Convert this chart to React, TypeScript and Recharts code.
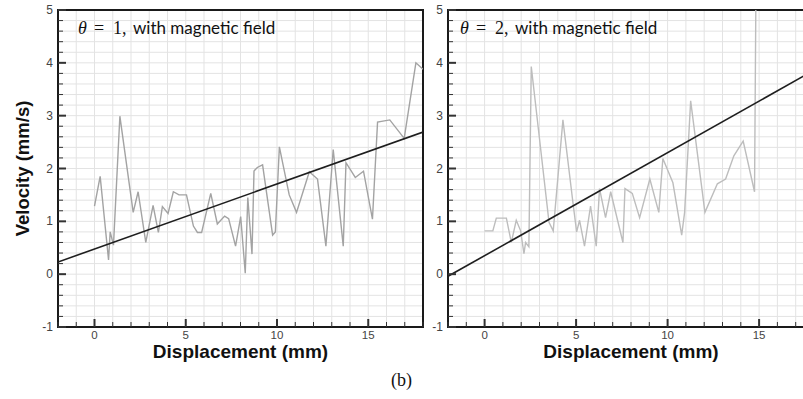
import React from "react";
import { LineChart, Line, XAxis, YAxis, CartesianGrid, ReferenceArea } from "recharts";

// theta = 1 run (left panel)
const leftX = [0, 0.31, 0.77, 0.86, 1.04, 1.39, 2.12, 2.39, 2.81, 3.21, 3.5, 3.72, 4.03, 4.32, 4.63, 5.04, 5.42, 5.64, 5.87, 6.37, 6.73, 7.13, 7.35, 7.73, 8.01, 8.26, 8.4, 8.63, 8.74, 8.92, 9.21, 9.76, 9.91, 10.13, 10.67, 11.07, 11.77, 12.22, 12.68, 13.08, 13.63, 13.78, 14.29, 14.74, 15.23, 15.51, 16.18, 16.97, 17.61, 18];
const leftV = [1.29, 1.85, 0.27, 0.8, 0.55, 2.99, 1.17, 1.56, 0.6, 1.3, 0.79, 1.28, 1.15, 1.56, 1.5, 1.5, 0.91, 0.79, 0.79, 1.53, 0.95, 1.1, 1.05, 0.53, 1.09, 0.02, 1.45, 0.38, 1.95, 2.02, 2.07, 0.74, 0.8, 2.41, 1.5, 1.17, 1.94, 1.8, 0.53, 2.36, 0.53, 2.11, 1.83, 1.95, 1.04, 2.88, 2.92, 2.57, 4.0, 3.88];

// theta = 2 run (right panel)
const rightX = [0, 0.45, 0.64, 1.19, 1.46, 1.73, 1.97, 2.15, 2.24, 2.42, 2.55, 3.52, 3.75, 4.28, 4.85, 5.03, 5.19, 5.46, 5.79, 6.1, 6.28, 6.61, 6.89, 7.56, 7.67, 8.07, 8.47, 9.03, 9.52, 9.74, 10.29, 10.77, 10.93, 11.26, 12.04, 12.72, 13.17, 13.62, 14.13, 14.75, 14.84];
const rightV = [0.82, 0.82, 1.06, 1.06, 0.6, 1.02, 0.82, 0.39, 0.6, 0.52, 3.93, 0.98, 0.82, 2.92, 1.29, 0.8, 1.02, 0.53, 1.29, 0.53, 1.62, 1.07, 1.56, 0.6, 1.62, 1.53, 1.07, 1.8, 1.17, 2.19, 1.73, 0.74, 1.17, 3.28, 1.17, 1.71, 1.8, 2.24, 2.52, 1.56, 6];

// linear fits
const leftFitX = [-2, 18];
const leftFitV = [0.23, 2.69];
const rightFitX = [-2, 18];
const rightFitV = [-0.04, 3.86];

const xTicks: number[] = [];
for (let i = -2; i <= 18; i++) xTicks.push(i);
const xLabels = [0, 5, 10, 15];
const yTicks: number[] = [];
for (let i = 0; i <= 30; i++) yTicks.push(Math.round((-1 + i * 0.2) * 10) / 10);

const toPoints = (xs: number[], vs: number[]) => xs.map((x, i) => ({ x, v: vs[i] }));

const YTick = (props: any) => {
  const { x, y, payload } = props;
  const v = payload.value;
  const major = Number.isInteger(v);
  const edge = x + 5;
  return (
    <g>
      <line x1={edge} x2={edge + (major ? 8 : 5)} y1={y} y2={y} stroke="#333" strokeWidth={major ? 2 : 1} />
      {major && (
        <text x={x} y={y} dy={4} textAnchor="end" fontSize={12} fill="#444" fontFamily="Liberation Sans, Arial">
          {v}
        </text>
      )}
    </g>
  );
};

const XTick = (props: any) => {
  const { x, y, payload } = props;
  const v = payload.value;
  const major = xLabels.includes(v);
  const edge = y - 6;
  return (
    <g>
      <line x1={x} x2={x} y1={edge} y2={edge - (major ? 8 : 5)} stroke="#333" strokeWidth={major ? 2 : 1} />
      {major && (
        <text x={x} y={y + 6} textAnchor="middle" fontSize={11.5} fill="#444" fontFamily="Liberation Sans, Arial">
          {v}
        </text>
      )}
    </g>
  );
};

type PanelProps = {
  xs: number[];
  vs: number[];
  fitX: number[];
  fitV: number[];
  theta: string;
  lineColor: string;
  width: number;
  right: number;
  titleX: number;
  yTitle?: boolean;
};

const Panel = ({ xs, vs, fitX, fitV, theta, lineColor, width, right, titleX, yTitle }: PanelProps) => {
  const plotW = width - 58 - right;
  return (
    <LineChart width={width} height={399} margin={{ top: 10, right, bottom: 22, left: 0 }}>
      <CartesianGrid stroke="#e3e3e3" strokeWidth={1} />
      <XAxis
        type="number"
        dataKey="x"
        domain={[-2, 18]}
        ticks={xTicks}
        interval={0}
        allowDataOverflow
        axisLine={false}
        tickLine={false}
        tickSize={0}
        tickMargin={6}
        height={50}
        tick={<XTick />}
      />
      <YAxis
        type="number"
        dataKey="v"
        domain={[-1, 5]}
        ticks={yTicks}
        interval={0}
        allowDataOverflow
        axisLine={false}
        tickLine={false}
        tickSize={0}
        tickMargin={5}
        width={58}
        tick={<YTick />}
      />
      <Line
        data={toPoints(xs, vs)}
        dataKey="v"
        stroke={lineColor}
        strokeWidth={1.4}
        dot={false}
        isAnimationActive={false}
      />
      <Line
        data={toPoints(fitX, fitV)}
        dataKey="v"
        stroke="#1e1e1e"
        strokeWidth={1.6}
        dot={false}
        isAnimationActive={false}
      />
      <ReferenceArea x1={-2} x2={18} y1={-1} y2={5} fill="none" stroke="#1a1a1a" strokeWidth={2} />
      <text y={34} fontSize={17} fill="#111">
        <tspan x={titleX} fontFamily="Liberation Serif" fontStyle="italic" fontSize={18}>θ</tspan>
        <tspan x={titleX + 16} fontFamily="Liberation Serif" fontSize={18}>=</tspan>
        <tspan x={titleX + 35} fontFamily="Liberation Serif" fontSize={18}>{theta},</tspan>
        <tspan x={titleX + 55} fontFamily="Lato">with magnetic field</tspan>
      </text>
      <text
        x={58 + plotW / 2}
        y={358}
        textAnchor="middle"
        fontSize={19}
        fontWeight="bold"
        fill="#111"
        fontFamily="Liberation Sans, Arial"
      >
        Displacement (mm)
      </text>
      {yTitle && (
        <text
          x={29}
          y={168.5}
          transform="rotate(-90 29 168.5)"
          textAnchor="middle"
          fontSize={18.5}
          fontWeight="bold"
          fill="#111"
          fontFamily="Liberation Sans, Arial"
        >
          Velocity (mm/s)
        </text>
      )}
    </LineChart>
  );
};

export default function App() {
  return (
    <div style={{ position: "absolute", left: 0, top: 0, width: 803, height: 399, overflow: "hidden", background: "#fff" }}>
      <div style={{ position: "absolute", left: 0, top: 0 }}>
        <Panel xs={leftX} vs={leftV} fitX={leftFitX} fitV={leftFitV} theta="1" lineColor="#a3a3a3" width={430} right={7} titleX={78} yTitle />
      </div>
      <div style={{ position: "absolute", left: 390, top: 0 }}>
        <Panel xs={rightX} vs={rightV} fitX={rightFitX} fitV={rightFitV} theta="2" lineColor="#bdbdbd" width={440} right={16} titleX={70} />
      </div>
      <div
        style={{
          position: "absolute",
          left: 0,
          width: 803,
          top: 370,
          textAlign: "center",
          fontFamily: "Liberation Serif, serif",
          fontSize: 18,
          color: "#111",
        }}
      >
        (b)
      </div>
    </div>
  );
}
